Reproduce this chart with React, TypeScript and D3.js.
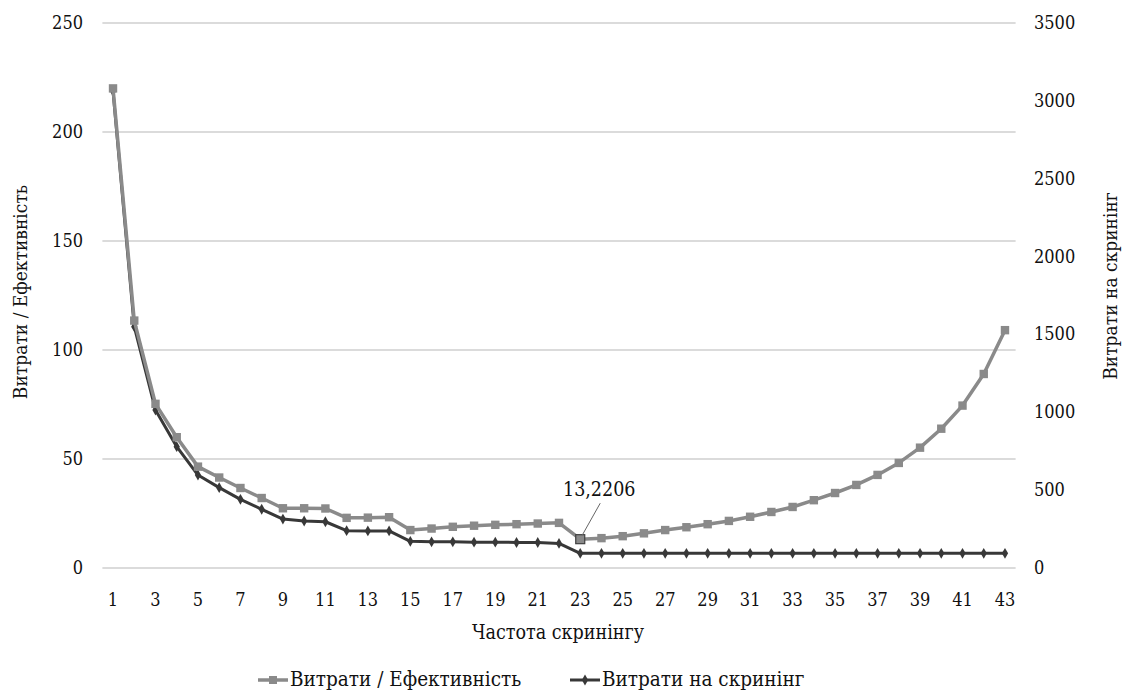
import * as d3 from 'd3';

// frequency of screening 1..43
const categories = [
  1, 2, 3, 4, 5, 6, 7, 8, 9, 10, 11, 12, 13, 14, 15, 16, 17, 18, 19, 20, 21, 22,
  23, 24, 25, 26, 27, 28, 29, 30, 31, 32, 33, 34, 35, 36, 37, 38, 39, 40, 41, 42, 43,
];

// Витрати / Ефективність (left axis)
const costEffect = [
  220, 113.5, 75.3, 60, 46.5, 41.5, 36.7, 32.1, 27.4, 27.4, 27.3, 23.0, 23.1, 23.3, 17.4,
  18.1, 18.9, 19.4, 19.8, 20.1, 20.4, 20.7, 13.2206, 13.7, 14.6, 15.9, 17.4, 18.7, 20.1,
  21.6, 23.5, 25.7, 28.0, 31.1, 34.4, 38.1, 42.7, 48.2, 55.2, 63.9, 74.5, 89.0, 109.1,
];

// Витрати на скринінг (right axis)
const screeningCost = [
  3063, 1550, 1015, 779, 597, 516, 441, 377, 314, 302, 297, 240, 238, 238, 171, 168, 168,
  166, 166, 164, 164, 158, 94, 94, 94, 94, 94, 94, 94, 94, 94, 94, 94, 94, 94, 94, 94, 94,
  94, 94, 94, 94, 94,
];

const leftTicks = [0, 50, 100, 150, 200, 250];
const rightTicks = [0, 500, 1000, 1500, 2000, 2500, 3000, 3500];
const xTickLabels = categories.filter((c) => c % 2 === 1);

const minIndex = 22;
const minLabel = '13,2206';

const W = 1125;
const H = 693;
const FONT = "'DejaVu Serif Condensed', 'DejaVu Serif', serif";
const FS = 18;
const GRAY = '#8a8a8a';
const DARK = '#383838';

export default function App() {
  const plot = { left: 102.4, right: 1015.6, top: 23, bottom: 568 };

  const x = d3
    .scalePoint<number>()
    .domain(categories)
    .range([plot.left, plot.right])
    .padding(0.5);
  const yL = d3.scaleLinear().domain([0, 250]).range([plot.bottom, plot.top]);
  const yR = d3.scaleLinear().domain([0, 3500]).range([plot.bottom, plot.top]);

  const lineL = d3
    .line<number>()
    .x((_, i) => x(categories[i])!)
    .y((d) => yL(d));
  const lineR = d3
    .line<number>()
    .x((_, i) => x(categories[i])!)
    .y((d) => yR(d));

  const diamond = d3.symbol().type(d3.symbolDiamond).size(34)()!;

  const mx = x(categories[minIndex])!;
  const my = yL(costEffect[minIndex]);

  return (
    <svg
      width={W}
      height={H}
      style={{ position: 'absolute', left: 0, top: 0, background: '#fff', fontFamily: FONT }}
    >
      {/* gridlines */}
      {leftTicks.map((t) => (
        <line
          key={t}
          x1={plot.left}
          x2={plot.right}
          y1={yL(t)}
          y2={yL(t)}
          stroke="#cfcfcf"
          strokeWidth={1.3}
        />
      ))}

      {/* left axis labels */}
      {leftTicks.map((t) => (
        <text key={t} x={83} y={yL(t) + 6} textAnchor="end" fontSize={FS} fill="#111">
          {t}
        </text>
      ))}

      {/* right axis labels */}
      {rightTicks.map((t) => (
        <text key={t} x={1034} y={yR(t) + 6} textAnchor="start" fontSize={FS} fill="#111">
          {t}
        </text>
      ))}

      {/* x axis labels */}
      {xTickLabels.map((c) => (
        <text key={c} x={x(c)!} y={606} textAnchor="middle" fontSize={FS} fill="#111">
          {c}
        </text>
      ))}

      {/* axis titles */}
      <text x={558} y={639} textAnchor="middle" fontSize={19.5} fill="#111">
        Частота скринінгу
      </text>
      <text
        transform={`translate(27,292) rotate(-90)`}
        textAnchor="middle"
        fontSize={19}
        fill="#111"
      >
        Витрати / Ефективність
      </text>
      <text
        transform={`translate(1117,286) rotate(-90)`}
        textAnchor="middle"
        fontSize={19}
        fill="#111"
      >
        Витрати на скринінг
      </text>

      {/* series: cost on screening */}
      <path d={lineR(screeningCost)!} fill="none" stroke={DARK} strokeWidth={3} strokeLinejoin="round" />
      {screeningCost.map((v, i) => (
        <path
          key={i}
          d={diamond}
          transform={`translate(${x(categories[i])},${yR(v)})`}
          fill={DARK}
        />
      ))}

      {/* series: cost / effectiveness */}
      <path d={lineL(costEffect)!} fill="none" stroke={GRAY} strokeWidth={3.5} strokeLinejoin="round" />
      {costEffect.map((v, i) =>
        i === minIndex ? null : (
          <rect
            key={i}
            x={x(categories[i])! - 4.2}
            y={yL(v) - 4.2}
            width={8.4}
            height={8.4}
            fill={GRAY}
          />
        )
      )}
      <rect x={mx - 4.5} y={my - 4.5} width={9} height={9} fill={GRAY} stroke="#404040" strokeWidth={1.2} />

      {/* data label for minimum */}
      <line x1={mx + 2} y1={my - 4} x2={mx + 20} y2={my - 36} stroke="#666" strokeWidth={1} />
      <text x={mx + 19} y={my - 43} textAnchor="middle" fontSize={19.5} fill="#111">
        {minLabel}
      </text>

      {/* legend */}
      <g transform="translate(258,686)">
        <line x1={0} x2={30} y1={-6} y2={-6} stroke={GRAY} strokeWidth={3.5} />
        <rect x={11} y={-10} width={8} height={8} fill={GRAY} />
        <text x={32} y={0} fontSize={20.5} fill="#111">
          Витрати / Ефективність
        </text>
      </g>
      <g transform="translate(570,686)">
        <line x1={0} x2={30} y1={-6} y2={-6} stroke={DARK} strokeWidth={3} />
        <path d={diamond} transform="translate(15,-6)" fill={DARK} />
        <text x={32} y={0} fontSize={20.5} fill="#111">
          Витрати на скринінг
        </text>
      </g>
    </svg>
  );
}
